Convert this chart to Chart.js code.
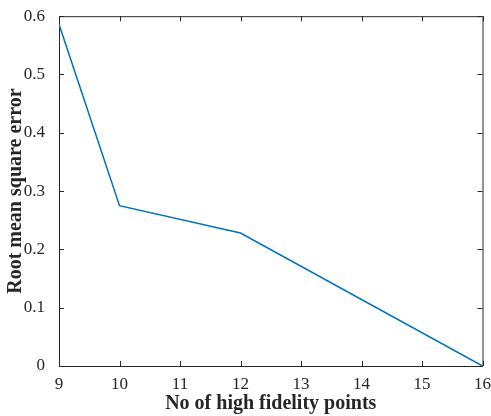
<!DOCTYPE html>
<html>
<head>
<meta charset="utf-8">
<script src="https://cdn.jsdelivr.net/npm/chart.js@4"></script>
<style>
  html, body { margin: 0; padding: 0; background: #fff; }
  #wrap { width: 491px; height: 416px; }
</style>
</head>
<body>
<div id="wrap"><canvas id="chart-rmse"></canvas></div>
<script>
// data
const fidelityPoints = [9, 10, 12, 16];
const rmseValues = [0.586, 0.275, 0.228, 0];
const xTicks = [9, 10, 11, 12, 13, 14, 15, 16];
const yTicks = [0, 0.1, 0.2, 0.3, 0.4, 0.5, 0.6];

const axisColor = "#262626";
const serif = "'Liberation Serif', 'DejaVu Serif', serif";

// inward ticks + box, matlab style
const boxTicks = {
  id: "boxTicks",
  afterDraw(chart) {
    const { ctx, chartArea: a, scales } = chart;
    const len = 5;
    ctx.save();
    ctx.lineWidth = 1;
    ctx.strokeStyle = axisColor;
    ctx.beginPath();
    xTicks.forEach((v) => {
      const x = Math.round(scales.x.getPixelForValue(v)) + 0.5;
      ctx.moveTo(x, a.bottom); ctx.lineTo(x, a.bottom - len);
      ctx.moveTo(x, a.top); ctx.lineTo(x, a.top + len);
    });
    yTicks.forEach((v) => {
      const y = Math.round(scales.y.getPixelForValue(v)) + 0.5;
      ctx.moveTo(a.left, y); ctx.lineTo(a.left + len, y);
      ctx.moveTo(a.right, y); ctx.lineTo(a.right - len, y);
    });
    ctx.stroke();
    // top and right edge
    ctx.beginPath();
    ctx.moveTo(a.left, a.top + 0.5); ctx.lineTo(a.right, a.top + 0.5);
    ctx.moveTo(Math.round(a.right), a.top); ctx.lineTo(Math.round(a.right), a.bottom);
    ctx.stroke();
    ctx.restore();
  },
};

new Chart(document.getElementById("chart-rmse"), {
  type: "line",
  data: {
    datasets: [
      {
        data: fidelityPoints.map((x, i) => ({ x, y: rmseValues[i] })),
        borderColor: "#0072BD",
        borderWidth: 1.5,
        pointRadius: 0,
        fill: false,
        tension: 0,
      },
    ],
  },
  options: {
    responsive: true,
    maintainAspectRatio: false,
    animation: false,
    layout: { padding: { top: 16, right: 0, bottom: 0, left: 0 } },
    plugins: { legend: { display: false }, tooltip: { enabled: false } },
    scales: {
      x: {
        type: "linear",
        min: 9,
        max: 16,
        afterFit: (s) => { s.height = 50; },
        afterBuildTicks: (s) => { s.ticks = xTicks.map((v) => ({ value: v })); },
        grid: { display: false },
        border: { display: true, color: axisColor, width: 1 },
        ticks: {
          color: axisColor,
          padding: 0,
          font: { family: serif, size: 17 },
        },
        title: {
          display: true,
          text: "No of high fidelity points",
          color: axisColor,
          padding: { top: 0, bottom: 0 },
          font: { family: serif, size: 20, weight: "bold" },
        },
      },
      y: {
        type: "linear",
        min: 0,
        max: 0.6,
        afterFit: (s) => { s.width = 59; },
        afterBuildTicks: (s) => { s.ticks = yTicks.map((v) => ({ value: v })); },
        grid: { display: false },
        border: { display: true, color: axisColor, width: 1 },
        ticks: {
          color: axisColor,
          padding: 6,
          font: { family: serif, size: 17 },
          callback: (v) => String(Math.round(v * 10) / 10),
        },
        title: {
          display: true,
          text: "Root mean square error",
          color: axisColor,
          padding: { top: 4, bottom: 0 },
          font: { family: serif, size: 20, weight: "bold" },
        },
      },
    },
  },
  plugins: [boxTicks],
});
</script>
</body>
</html>
